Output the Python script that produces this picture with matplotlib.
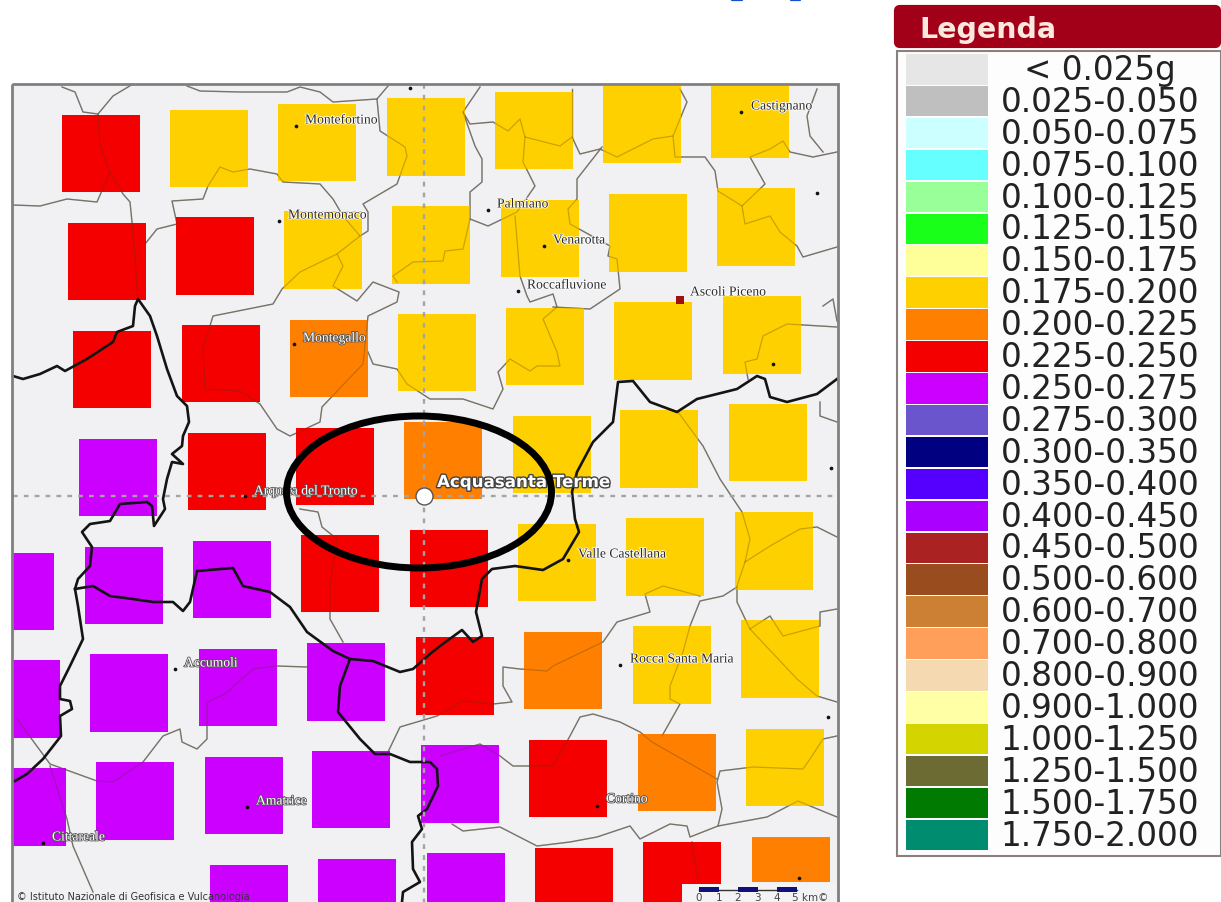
import matplotlib
matplotlib.use('Agg')
import matplotlib.pyplot as plt
import matplotlib.patheffects as pe
from matplotlib.patches import Rectangle, Ellipse, FancyBboxPatch

# legend classes
legend_labels = ['< 0.025g', '0.025-0.050', '0.050-0.075', '0.075-0.100', '0.100-0.125',
                 '0.125-0.150', '0.150-0.175', '0.175-0.200', '0.200-0.225', '0.225-0.250',
                 '0.250-0.275', '0.275-0.300', '0.300-0.350', '0.350-0.400', '0.400-0.450',
                 '0.450-0.500', '0.500-0.600', '0.600-0.700', '0.700-0.800', '0.800-0.900',
                 '0.900-1.000', '1.000-1.250', '1.250-1.500', '1.500-1.750', '1.750-2.000']
legend_colors = ['#e6e6e6', '#bfbfbf', '#ccffff', '#66ffff', '#99ff99',
                 '#19ff19', '#ffff99', '#ffd000', '#ff8000', '#f50000',
                 '#cc00ff', '#6a55cc', '#000080', '#5500ff', '#aa00ff',
                 '#aa2222', '#994d1f', '#cc8033', '#ff9f5a', '#f5d9b0',
                 '#ffffa6', '#d4d400', '#6b6b33', '#007a00', '#008c6e']

Y, O, R, P = '0.175-0.200', '0.200-0.225', '0.225-0.250', '0.250-0.275'

# hazard cells, one list per row, map position
row1_left = [62, 170, 278, 387, 495, 603, 711]
row1_top = [116, 111, 105, 99, 93, 87, 87]
row1_bottom = [193, 188, 182, 177, 170, 164, 159]
row1_class = [R, Y, Y, Y, Y, Y, Y]

row2_left = [68, 176, 284, 392, 501, 609, 717]
row2_top = [224, 218, 212, 207, 201, 195, 189]
row2_bottom = [301, 296, 290, 285, 278, 273, 267]
row2_class = [R, R, Y, Y, Y, Y, Y]

row3_left = [73, 182, 290, 398, 506, 614, 723]
row3_top = [332, 326, 321, 315, 309, 303, 297]
row3_bottom = [409, 403, 398, 392, 386, 381, 375]
row3_class = [R, R, O, Y, Y, Y, Y]

row4_left = [79, 188, 296, 404, 513, 620, 729]
row4_top = [440, 434, 429, 423, 417, 411, 405]
row4_bottom = [517, 511, 506, 500, 494, 489, 482]
row4_class = [P, R, R, O, Y, Y, Y]

row5_left = [85, 193, 301, 410, 518, 626, 735]
row5_top = [548, 542, 536, 531, 525, 519, 513]
row5_bottom = [625, 619, 613, 608, 602, 597, 591]
row5_class = [P, P, R, R, Y, Y, Y]

row6_left = [90, 199, 307, 416, 524, 633, 741]
row6_top = [655, 650, 644, 638, 633, 627, 621]
row6_bottom = [733, 727, 722, 716, 710, 705, 699]
row6_class = [P, P, P, R, O, Y, Y]

row7_left = [96, 205, 312, 421, 529, 638, 746]
row7_top = [763, 758, 752, 746, 741, 735, 730]
row7_bottom = [841, 835, 829, 824, 818, 812, 807]
row7_class = [P, P, P, P, R, O, Y]

row8_left = [210, 318, 427, 535, 643, 752]
row8_top = [866, 860, 854, 849, 843, 838]
row8_bottom = [903, 903, 903, 903, 903, 883]
row8_class = [P, P, P, R, R, O]

edge_left = [13, 13, 13]
edge_right = [54, 60, 66]
edge_top = [554, 661, 769]
edge_bottom = [631, 739, 847]

rows = [(row1_left, row1_top, row1_bottom, row1_class),
        (row2_left, row2_top, row2_bottom, row2_class),
        (row3_left, row3_top, row3_bottom, row3_class),
        (row4_left, row4_top, row4_bottom, row4_class),
        (row5_left, row5_top, row5_bottom, row5_class),
        (row6_left, row6_top, row6_bottom, row6_class),
        (row7_left, row7_top, row7_bottom, row7_class),
        (row8_left, row8_top, row8_bottom, row8_class)]

# regional and province borders
thick_borders = [
    [(13, 377), (23, 380), (40, 375), (57, 367), (65, 372), (87, 360), (113, 343), (117, 333),
     (133, 327), (135, 307), (138, 300), (150, 317), (157, 337), (167, 370), (177, 397),
     (187, 407), (189, 423), (183, 437), (182, 447), (172, 455), (183, 465), (172, 463),
     (167, 480), (163, 500), (165, 510), (154, 527), (152, 507), (147, 503), (120, 505),
     (110, 522), (90, 525), (82, 533), (92, 548), (90, 567), (78, 580), (75, 590), (78, 607),
     (83, 640), (70, 667), (60, 687), (60, 700), (70, 702), (72, 710), (60, 717), (61, 737),
     (43, 760), (27, 775), (15, 782)],
    [(75, 590), (93, 587), (110, 597), (133, 600), (153, 603), (173, 603), (183, 612),
     (190, 603), (197, 572), (233, 569), (243, 587), (270, 593), (290, 608), (307, 633),
     (333, 652), (350, 660), (373, 662), (400, 673), (413, 670), (430, 655), (440, 647),
     (462, 631), (473, 643), (482, 637), (476, 613), (482, 580), (492, 570), (515, 567),
     (543, 571), (563, 560), (579, 533), (575, 520), (572, 493), (577, 473), (593, 443),
     (613, 423), (618, 383), (633, 382), (650, 403), (677, 413), (697, 400), (737, 390),
     (757, 377), (765, 380), (770, 398), (787, 403), (817, 395), (837, 380)],
    [(350, 660), (340, 687), (338, 713), (360, 740), (375, 755), (390, 755), (410, 763),
     (430, 763), (437, 770), (438, 787), (427, 810), (418, 817), (422, 830), (412, 843),
     (413, 870), (420, 883), (403, 893), (402, 903)],
]

thin_borders = [
    [(133, 85), (113, 97), (98, 115), (100, 147), (110, 173), (123, 195), (130, 203), (132, 223),
     (135, 260), (138, 300)],
    [(62, 88), (75, 93), (83, 113), (98, 115)],
    [(13, 206), (40, 207), (67, 200), (97, 203), (110, 173)],
    [(177, 225), (172, 202), (203, 200), (208, 187), (220, 168), (233, 173), (250, 170),
     (277, 175), (283, 183), (320, 185), (333, 200), (343, 217), (360, 237), (368, 232),
     (368, 213), (363, 205), (397, 185), (407, 157), (405, 148), (380, 132), (377, 100),
     (388, 87)],
    [(187, 87), (200, 92), (240, 93), (287, 93), (300, 88), (320, 93), (333, 103), (377, 100)],
    [(177, 225), (157, 230), (145, 245)],
    [(360, 237), (337, 255), (300, 273), (282, 290), (273, 305), (213, 317), (203, 350),
     (205, 390), (240, 392), (260, 405), (277, 430), (290, 437), (320, 423), (322, 408),
     (363, 365), (368, 317), (397, 303), (399, 293), (373, 283), (357, 302), (333, 287),
     (343, 267), (337, 255)],
    [(368, 353), (373, 365), (397, 370), (407, 385), (430, 400), (463, 400), (493, 410),
     (503, 390), (498, 373), (510, 360), (530, 372), (537, 367), (560, 367), (557, 353),
     (543, 320), (557, 308), (553, 295), (530, 303), (527, 297), (520, 277), (515, 217)],
    [(397, 283), (393, 277), (413, 263), (443, 262), (445, 252), (463, 250), (470, 220),
     (470, 193), (482, 183), (482, 160), (475, 147), (463, 113), (480, 88)],
    [(463, 113), (470, 125), (493, 123), (508, 132), (520, 120), (525, 138), (560, 147),
     (572, 138), (580, 155), (600, 150), (617, 158), (653, 140), (673, 137), (675, 158),
     (705, 158), (715, 172), (718, 192), (742, 207), (765, 185), (750, 158), (770, 150),
     (783, 142), (790, 153), (813, 158), (837, 153)],
    [(572, 90), (572, 138)],
    [(680, 90), (687, 103), (673, 137)],
    [(817, 90), (807, 117), (810, 137), (823, 153)],
    [(525, 138), (523, 163), (535, 187), (517, 213), (488, 227), (470, 220)],
    [(553, 308), (590, 310), (620, 290), (617, 260), (608, 257), (610, 247), (570, 225),
     (568, 210), (577, 200), (577, 180), (602, 148)],
    [(742, 207), (745, 225), (770, 217), (780, 233), (797, 247), (803, 258), (820, 253),
     (837, 248)],
    [(837, 328), (787, 325), (763, 337), (757, 360), (745, 363), (748, 380)],
    [(823, 307), (833, 300), (837, 322)],
    [(820, 403), (820, 417), (837, 423)],
    [(678, 413), (703, 447), (720, 480), (742, 513), (750, 540), (745, 563), (737, 587),
     (737, 603), (750, 630), (797, 680), (817, 697), (837, 703)],
    [(745, 563), (770, 547), (800, 530), (817, 528), (837, 538)],
    [(737, 588), (723, 597), (700, 602), (690, 627), (683, 653), (670, 687), (670, 700),
     (680, 705), (662, 737)],
    [(700, 597), (663, 587), (645, 595), (650, 613), (617, 623), (603, 643), (553, 667),
     (547, 672), (520, 670), (503, 668), (503, 687), (512, 703), (493, 705), (463, 702),
     (437, 717), (400, 728), (388, 753)],
    [(750, 630), (770, 617), (783, 637), (820, 627), (820, 613), (837, 610)],
    [(837, 737), (823, 740), (810, 760), (803, 770), (753, 768), (720, 772), (717, 783),
     (722, 810), (718, 827), (690, 838), (687, 827), (670, 825), (640, 840), (630, 827),
     (597, 838), (570, 843), (537, 847), (500, 828), (463, 832), (452, 825)],
    [(718, 827), (767, 818), (798, 802), (837, 818)],
    [(717, 780), (652, 743), (640, 733), (620, 723), (593, 715), (580, 718), (570, 737),
     (553, 767), (513, 767), (500, 757), (480, 745), (440, 757)],
    [(692, 843), (698, 883)],
    [(300, 510), (318, 513), (322, 528), (337, 540), (330, 587), (330, 620), (343, 643)],
    [(307, 668), (277, 667), (253, 670), (225, 695), (207, 703), (207, 740), (197, 750),
     (182, 743), (180, 730), (163, 737), (143, 763), (113, 783), (97, 782), (50, 765), (17, 720)],
    [(50, 767), (67, 820), (73, 847), (93, 893)],
]

# towns: name, marker position, label position
town_names = ['Montefortino', 'Montemonaco', 'Palmiano', 'Venarotta', 'Roccafluvione',
              'Ascoli Piceno', 'Castignano', 'Montegallo', 'Arquata del Tronto',
              'Valle Castellana', 'Rocca Santa Maria', 'Accumoli', 'Amatrice', 'Cortino',
              'Cittareale']
town_x = [296, 279, 488, 544, 518, 680, 741, 294, 245, 568, 620, 175, 247, 597, 43]
town_y = [127, 222, 211, 247, 292, 301, 113, 345, 497, 561, 666, 670, 808, 807, 844]
label_x = [305, 288, 497, 553, 527, 690, 751, 303, 254, 578, 630, 184, 256, 606, 52]
label_y = [121, 216, 205, 241, 286, 293, 107, 339, 492, 555, 660, 664, 802, 800, 838]
label_light = [False, False, False, False, False, False, False, True, True, False, False,
               True, True, True, True]
extra_town_x = [410, 817, 773, 831, 828, 799]
extra_town_y = [89, 194, 365, 469, 718, 879]

# bits of a line of blue text cut by the top of the page
cut_text_x = [[732, 742], [791, 800]]

fig = plt.figure(figsize=(12.21, 9.03), dpi=100)
ax = fig.add_axes([0, 0, 1, 1])
ax.set_xlim(0, 1221)
ax.set_ylim(903, 0)
ax.axis('off')

# map background
ax.add_patch(Rectangle((12, 85), 826, 818, fc='#f1f1f3', ec='none', zorder=0))

for line in thin_borders:
    xs, ys = zip(*line)
    ax.plot(xs, ys, color='#8c8c8c', lw=1.0, zorder=1)
    ax.plot(xs, ys, color='#4a3a10', lw=0.9, alpha=0.3, zorder=3)

for left, top, bottom, classes in rows:
    for x, t, b, c in zip(left, top, bottom, classes):
        ax.add_patch(Rectangle((x, t), 78, b - t, fc=legend_colors[legend_labels.index(c)],
                               ec='none', zorder=2))
for x0, x1, t, b in zip(edge_left, edge_right, edge_top, edge_bottom):
    ax.add_patch(Rectangle((x0, t), x1 - x0, b - t, fc=legend_colors[legend_labels.index(P)],
                           ec='none', zorder=2))

for line in thick_borders:
    xs, ys = zip(*line)
    ax.plot(xs, ys, color='#141414', lw=1.9, zorder=4)

# crosshair on the site
ax.plot([424, 424], [85, 903], color='#a4a4a4', lw=1.7, ls=(0, (2.0, 2.6)), zorder=5)
ax.plot([13, 838], [497, 497], color='#a4a4a4', lw=1.7, ls=(0, (2.0, 2.6)), zorder=5)

# frame
ax.add_patch(Rectangle((12, 85), 826, 830, fc='none', ec='#808080', lw=2, zorder=6))

ax.scatter(town_x, town_y, s=7, color='#111111', zorder=7, linewidths=0)
ax.scatter(extra_town_x, extra_town_y, s=7, color='#111111', zorder=7, linewidths=0)
ax.scatter([680], [301], s=28, marker='s', color='#a01010', zorder=7, linewidths=0)

for name, x, y, light in zip(town_names, label_x, label_y, label_light):
    fg = 'white' if light else '#2a2a2a'
    halo = '#555555' if light else 'white'
    ax.text(x, y, name, fontsize=9.8, family='Liberation Serif', color=fg, va='center',
            path_effects=[pe.withStroke(linewidth=1.2, foreground=halo)], zorder=8)

ax.scatter([424], [497], s=150, color='white', edgecolors='#555555', linewidths=1, zorder=9)
ax.text(437, 483, 'Acquasanta Terme', fontsize=12, weight='bold', family='DejaVu Sans',
        color='white', va='center',
        path_effects=[pe.withStroke(linewidth=2, foreground='#444444')], zorder=9)

ax.add_patch(Ellipse((419, 493), 265, 152, fc='none', ec='black', lw=5, zorder=10))

# copyright and scale bar
ax.text(17, 897, '© Istituto Nazionale di Geofisica e Vulcanologia', fontsize=7,
        family='DejaVu Sans', color='#333333', va='center', zorder=8)
ax.add_patch(Rectangle((682, 885), 154, 18, fc='#f3f3f5', ec='none', zorder=8))
ax.plot([699, 797], [891, 891], color='#333333', lw=1, zorder=9)
for x0 in [699, 738, 777]:
    ax.add_patch(Rectangle((x0, 888), 20, 5, fc='#10107a', ec='none', zorder=9))
for x, s in zip([699, 719, 738, 757, 777], ['0', '1', '2', '3', '4']):
    ax.text(x, 898, s, fontsize=7.5, color='#444444', ha='center', va='center', zorder=9)
ax.text(792, 898, '5 km©', fontsize=7.5, color='#444444', ha='left', va='center', zorder=9)

for xs in cut_text_x:
    ax.plot(xs, [1, 1], color='#1550c8', lw=1.6, solid_capstyle='round')

# legend
ax.add_patch(FancyBboxPatch((896, 8), 323, 39, boxstyle='round,pad=0,rounding_size=4',
                            fc='#a20018', ec='#a20018', lw=3, zorder=2))
ax.text(919, 30, 'Legenda', fontsize=20.5, weight='bold', family='DejaVu Sans', color='#fde8e0',
        va='center', zorder=3)
ax.add_patch(Rectangle((897, 52), 324, 805, fc='#fdfdfd', ec='#8a8080', lw=1.5, zorder=1))
for i, (label, color) in enumerate(zip(legend_labels, legend_colors)):
    top = 55 + i * 31.9
    ax.add_patch(Rectangle((906, top), 82, 30.5, fc=color, ec='none', zorder=2))
    ax.text(1100, top + 15.5, label, fontsize=23.5, family='DejaVu Sans', color='#222222',
            ha='center', va='center', zorder=3)

fig.savefig('out.png', dpi=100)
